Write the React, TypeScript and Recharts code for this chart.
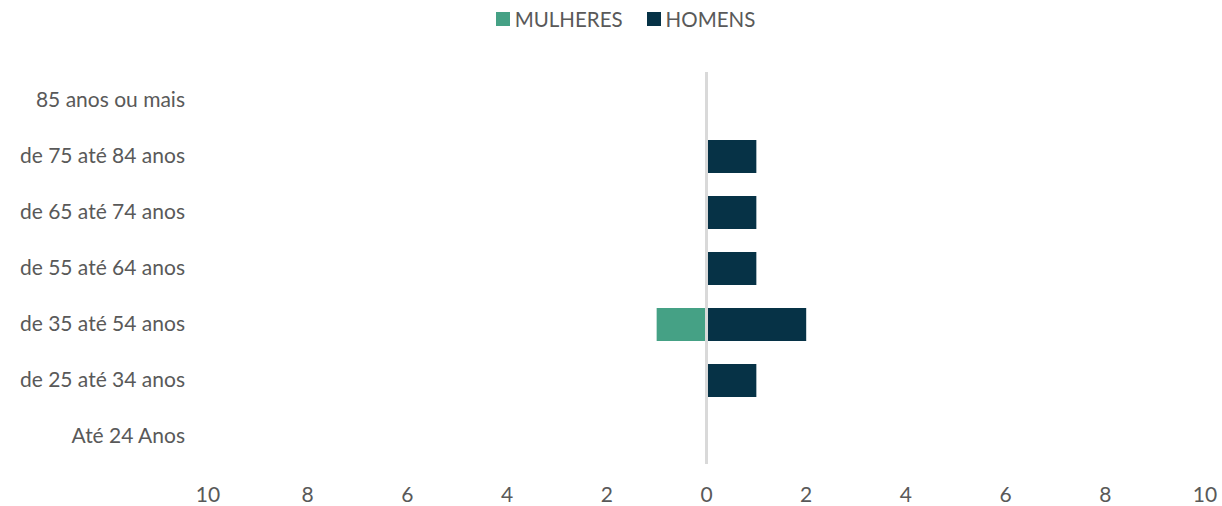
import { BarChart, Bar, XAxis, YAxis, ReferenceLine, Legend } from "recharts";

const faixas = [
  "85 anos ou mais",
  "de 75 até 84 anos",
  "de 65 até 74 anos",
  "de 55 até 64 anos",
  "de 35 até 54 anos",
  "de 25 até 34 anos",
  "Até 24 Anos",
];
const mulheres = [0, 0, 0, 0, -1, 0, 0];
const homens = [0, 1, 1, 1, 2, 1, 0];
const xTicks = [-10, -8, -6, -4, -2, 0, 2, 4, 6, 8, 10];

const VERDE = "#45a185";
const AZUL = "#063246";
const TEXTO = "#595959";
const FONTE = "Lato, 'Open Sans', sans-serif";

const data = faixas.map((faixa, i) => ({ faixa, mulheres: mulheres[i], homens: homens[i] }));

// legenda centrada sobre a área do gráfico (não sobre a página toda)
function Legenda() {
  const itens = [
    { nome: "MULHERES", cor: VERDE },
    { nome: "HOMENS", cor: AZUL },
  ];
  return (
    <div
      style={{
        display: "flex",
        justifyContent: "center",
        gap: 24,
        paddingLeft: 46,
        fontFamily: FONTE,
        fontSize: 20.5,
        color: TEXTO,
      }}
    >
      {itens.map((it) => (
        <div key={it.nome} style={{ display: "flex", alignItems: "center", gap: 5 }}>
          <span style={{ width: 14, height: 14, background: it.cor, display: "inline-block" }} />
          <span>{it.nome}</span>
        </div>
      ))}
    </div>
  );
}

export default function App() {
  return (
    <div style={{ position: "absolute", left: 0, top: 0, background: "#fff" }}>
      <BarChart
        width={1222}
        height={506}
        data={data}
        layout="vertical"
        stackOffset="sign"
        barSize={33}
        margin={{ top: 40, right: 17, bottom: 0, left: 0 }}
      >
        <Legend verticalAlign="top" height={32} content={() => <Legenda />} wrapperStyle={{ top: 7 }} />
        <XAxis
          type="number"
          domain={[-10, 10]}
          ticks={xTicks}
          tickFormatter={(v: number) => String(Math.abs(v))}
          axisLine={false}
          tickLine={false}
          tickSize={0}
          tickMargin={23}
          height={42}
          tick={{ fill: TEXTO, fontSize: 21, fontFamily: FONTE }}
        />
        <YAxis
          type="category"
          dataKey="faixa"
          width={208}
          axisLine={false}
          tickLine={false}
          tickSize={0}
          tickMargin={23}
          tick={{ fill: TEXTO, fontSize: 21, fontFamily: FONTE }}
        />
        <Bar dataKey="mulheres" name="MULHERES" stackId="a" fill={VERDE} isAnimationActive={false} />
        <Bar dataKey="homens" name="HOMENS" stackId="a" fill={AZUL} isAnimationActive={false} />
        <ReferenceLine x={0} stroke="#d9d9d9" strokeWidth={3} />
      </BarChart>
    </div>
  );
}
